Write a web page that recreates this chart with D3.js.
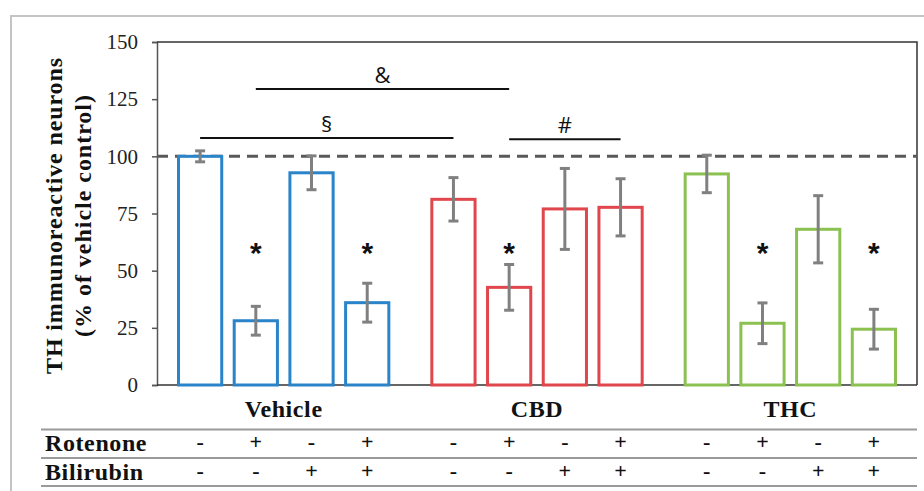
<!DOCTYPE html>
<html>
<head>
<meta charset="utf-8">
<script src="https://cdn.jsdelivr.net/npm/d3@7"></script>
<style>
  html, body { margin: 0; padding: 0; background: #fff; }
  svg { display: block; }
  .serif { font-family: "Liberation Serif", "DejaVu Serif", "Times New Roman", serif; }
</style>
</head>
<body>
<svg width="924" height="491"></svg>
<script>
// data
const groups = ["Vehicle", "CBD", "THC"];
const vehicleMeans = [100, 28.1, 92.8, 36.0];
const vehicleErr = [2.4, 6.3, 7.4, 8.5];
const cbdMeans = [81.2, 42.7, 77.0, 77.7];
const cbdErr = [9.5, 10.0, 17.7, 12.5];
const thcMeans = [92.3, 27.0, 68.1, 24.4];
const thcErr = [8.2, 8.9, 14.7, 8.7];
const rotenone = ["-", "+", "-", "+"];
const bilirubin = ["-", "-", "+", "+"];
const yTicks = [0, 25, 50, 75, 100, 125, 150];
const starBars = [["Vehicle", 1], ["Vehicle", 3], ["CBD", 1], ["THC", 1], ["THC", 3]];
const starLevel = 61;
const controlLevel = 100;
const brackets = [
    {label: "\u00a7", from: ["Vehicle", 0], to: ["CBD", 0], level: 108},
    {label: "&", from: ["Vehicle", 1], to: ["CBD", 1], level: 129.5},
    {label: "#", from: ["CBD", 1], to: ["CBD", 3], level: 107.5}
];

const groupColor = {"Vehicle": "#2a84c9", "CBD": "#e0464b", "THC": "#8bc150"};

const rows = [];
[vehicleMeans, cbdMeans, thcMeans].forEach((means, gi) => {
    const errs = [vehicleErr, cbdErr, thcErr][gi];
    means.forEach((m, i) => rows.push({group: groups[gi], idx: i, mean: m, err: errs[i]}));
});

const svg = d3.select("svg");

// outer frame
svg.append("path")
    .attr("d", "M11,491 V16 H924")
    .attr("fill", "none")
    .attr("stroke", "#c4c4c4")
    .attr("stroke-width", 2);

const x0 = d3.scaleBand().domain(groups).range([157, 917]);
const x1 = d3.scaleBand().domain([0, 1, 2, 3]).range([0, x0.bandwidth()])
    .paddingInner(0.224).paddingOuter(0.386);
const y = d3.scaleLinear().domain([0, 150]).range([385, 42]);

const cx = (g, i) => x0(g) + x1(i) + x1.bandwidth() / 2;

// y axis
const yAxis = svg.append("g")
    .attr("transform", "translate(157,0)")
    .call(d3.axisLeft(y).tickValues(yTicks).tickSize(5).tickPadding(14));
yAxis.attr("font-family", null).attr("font-size", null);
yAxis.select(".domain").attr("stroke", "#555").attr("stroke-width", 1.5);
yAxis.selectAll(".tick line").attr("stroke", "#555").attr("stroke-width", 1.5);
yAxis.selectAll(".tick text")
    .attr("class", "serif")
    .style("font-size", "21px")
    .attr("fill", "#222");

// frame top / right / bottom
svg.append("path")
    .attr("d", `M157,${y(150)} H917 V${y(0)}`)
    .attr("fill", "none").attr("stroke", "#333").attr("stroke-width", 1.5);
svg.append("line")
    .attr("x1", 157).attr("x2", 917).attr("y1", y(0)).attr("y2", y(0))
    .attr("stroke", "#333").attr("stroke-width", 1.5);

// y title
const yTitle = svg.append("text")
    .attr("class", "serif")
    .attr("transform", `translate(0,216) rotate(-90)`)
    .attr("text-anchor", "middle")
    .style("font-weight", "bold")
    .style("font-size", "24px")
    .attr("fill", "#111");
yTitle.append("tspan").attr("x", 0).attr("y", 62)
    .attr("textLength", 316).attr("lengthAdjust", "spacing")
    .text("TH immunoreactive neurons");
yTitle.append("tspan").attr("x", 0).attr("y", 91)
    .attr("textLength", 242).attr("lengthAdjust", "spacing")
    .text("(% of vehicle control)");

// control dashed line
svg.append("line")
    .attr("x1", 157).attr("x2", 917)
    .attr("y1", y(controlLevel)).attr("y2", y(controlLevel))
    .attr("stroke", "#595959").attr("stroke-width", 3)
    .attr("stroke-dasharray", "11,7");

// bars
svg.append("g").selectAll("rect")
    .data(rows)
    .join("rect")
    .attr("x", d => x0(d.group) + x1(d.idx))
    .attr("y", d => y(d.mean))
    .attr("width", x1.bandwidth())
    .attr("height", d => y(0) - y(d.mean))
    .attr("fill", "#fff")
    .attr("stroke", d => groupColor[d.group])
    .attr("stroke-width", 3);

// error bars
const eb = svg.append("g").attr("stroke", "#808080").attr("stroke-width", 3);
rows.forEach(d => {
    const c = cx(d.group, d.idx);
    eb.append("line").attr("x1", c).attr("x2", c).attr("y1", y(d.mean + d.err)).attr("y2", y(d.mean - d.err));
    [d.mean + d.err, d.mean - d.err].forEach(v => {
        eb.append("line").attr("x1", c - 5).attr("x2", c + 5).attr("y1", y(v)).attr("y2", y(v));
    });
});

// asterisks
svg.append("g").selectAll("text")
    .data(starBars)
    .join("text")
    .attr("x", d => cx(d[0], d[1]))
    .attr("y", y(starLevel) + 17)
    .attr("text-anchor", "middle")
    .attr("font-family", "'Liberation Sans', Arial, sans-serif")
    .attr("font-weight", "bold")
    .attr("font-size", 30)
    .attr("fill", "#111")
    .text("*");

// significance brackets
brackets.forEach(b => {
    const xa = cx(b.from[0], b.from[1]);
    const xb = cx(b.to[0], b.to[1]);
    svg.append("line")
        .attr("x1", xa).attr("x2", xb)
        .attr("y1", y(b.level)).attr("y2", y(b.level))
        .attr("stroke", "#111").attr("stroke-width", 2);
    svg.append("text")
        .attr("x", (xa + xb) / 2)
        .attr("y", y(b.level) - 6)
        .attr("text-anchor", "middle")
        .attr("font-family", "'Open Sans', 'Liberation Sans', sans-serif")
        .attr("font-size", 22)
        .attr("fill", "#111")
        .text(b.label);
});

// group labels
svg.append("g").selectAll("text")
    .data(groups)
    .join("text")
    .attr("class", "serif")
    .attr("x", d => x0(d) + x0.bandwidth() / 2)
    .attr("y", 417)
    .attr("text-anchor", "middle")
    .style("font-weight", "bold")
    .style("font-size", "24px")
    .style("letter-spacing", "0.6px")
    .attr("fill", "#111")
    .text(d => d);

// treatment table
[429.5, 458, 486].forEach(ly => {
    svg.append("line")
        .attr("x1", 41).attr("x2", 917).attr("y1", ly).attr("y2", ly)
        .attr("stroke", "#9a9a9a").attr("stroke-width", 2);
});

const tableRows = [["Rotenone", rotenone, 451], ["Bilirubin", bilirubin, 480]];
tableRows.forEach(([name, signs, base]) => {
    svg.append("text")
        .attr("class", "serif")
        .attr("x", 45).attr("y", base)
        .style("font-weight", "bold")
        .style("font-size", "24px")
        .style("letter-spacing", "0.6px")
        .attr("fill", "#111")
        .text(name);
    groups.forEach(g => {
        signs.forEach((s, i) => {
            svg.append("text")
                .attr("class", "serif")
                .attr("x", cx(g, i))
                .attr("y", base - 2)
                .attr("text-anchor", "middle")
                .style("font-weight", "bold")
                .style("font-size", "22px")
                .attr("fill", "#111")
                .text(s);
        });
    });
});
</script>
</body>
</html>
